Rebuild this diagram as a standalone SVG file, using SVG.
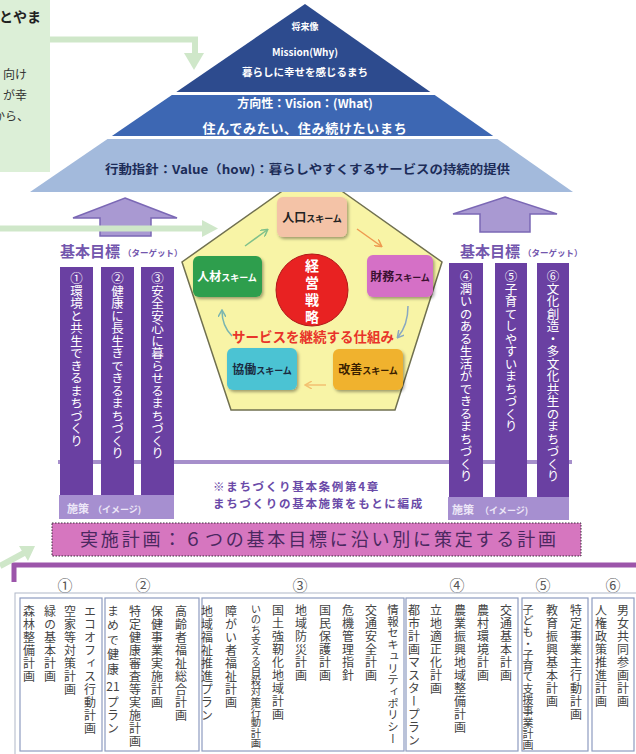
<svg xmlns="http://www.w3.org/2000/svg" width="636" height="754" viewBox="0 0 636 754">
<style>
text{font-family:"Noto Sans CJK JP","Noto Sans",sans-serif}
.v{writing-mode:vertical-rl}
.pt{fill:#fff;font-size:12.5px}
.bt{fill:#444;font-size:12px;letter-spacing:1px}
.box{stroke:#8e9cc0;stroke-width:1.2;fill:#fff}
.pillar{fill:#6a40a2}
.sk{stroke:none;filter:url(#sh)}
.gl{stroke:#cfe7c9;stroke-width:6;fill:none}
.num{fill:#555;font-size:15px;text-anchor:middle}
.goal{fill:#7356ad;font-weight:bold;font-size:15px}
.goal tspan{font-size:8.5px}
.shisaku{fill:#ece6f7;font-weight:bold;font-size:11px}
.shisaku tspan{font-size:9px}
.skt{font-weight:bold;font-size:12px;text-anchor:middle}
.skt tspan{font-size:9px}
.note{font-size:11.5px;font-weight:bold;fill:#6a4aa8;letter-spacing:1.7px}
</style>
<defs>
<filter id="sh" x="-20%" y="-20%" width="150%" height="160%"><feDropShadow dx="1.5" dy="2" stdDeviation="1.5" flood-color="#000" flood-opacity="0.35"/></filter>
<marker id="mg" markerWidth="8" markerHeight="8" refX="6" refY="4" orient="auto" markerUnits="userSpaceOnUse"><path d="M0,0 L7,4 L0,8" fill="none" stroke="#7fc08a" stroke-width="1.5"/></marker>
<marker id="mo" markerWidth="8" markerHeight="8" refX="6" refY="4" orient="auto" markerUnits="userSpaceOnUse"><path d="M0,0 L7,4 L0,8" fill="none" stroke="#ee9a50" stroke-width="1.5"/></marker>
<marker id="mb" markerWidth="8" markerHeight="8" refX="6" refY="4" orient="auto" markerUnits="userSpaceOnUse"><path d="M0,0 L7,4 L0,8" fill="none" stroke="#8aa8c0" stroke-width="1.5"/></marker>
<marker id="my" markerWidth="8" markerHeight="8" refX="6" refY="4" orient="auto" markerUnits="userSpaceOnUse"><path d="M0,0 L7,4 L0,8" fill="none" stroke="#f3c070" stroke-width="1.5"/></marker>
<marker id="mt" markerWidth="8" markerHeight="8" refX="6" refY="4" orient="auto" markerUnits="userSpaceOnUse"><path d="M0,0 L7,4 L0,8" fill="none" stroke="#7ab5b0" stroke-width="1.5"/></marker>
</defs>

<g id="intro-box">
<rect x="0" y="0" width="50" height="172" fill="#dcefd7"/>
<text x="-1" y="22" font-size="14" font-weight="bold" fill="#222">とやま</text>
<text x="27" y="79" font-size="12" fill="#333" text-anchor="end">向け</text>
<text x="27" y="100" font-size="12" fill="#333" text-anchor="end">が幸</text>
<text x="-7" y="121" font-size="12" fill="#333">から、</text>
</g>

<g id="center-pentagon">
<polygon points="312,170 442,262 395,410 231,410 182,262" fill="#f8f4a6" stroke="#707050" stroke-width="1.5"/>
</g>

<g id="pyramid">
<polygon points="305,4 430.4,92 176.3,92" fill="#2d4b8e"/>
<polygon points="171.9,95 434.7,95 493.2,136 111.9,136" fill="#3d67b3"/>
<polygon points="107.5,139 497.4,139 573,192 30,192" fill="#a3badc"/>
<text x="305" y="30" font-size="9" font-weight="bold" fill="#fff" text-anchor="middle">将来像</text>
<text x="305" y="56" font-size="10" font-weight="bold" fill="#fff" text-anchor="middle">Mission(Why)</text>
<text x="305" y="76" font-size="10.5" font-weight="bold" fill="#fff" text-anchor="middle">暮らしに幸せを感じるまち</text>
<text x="305" y="108" font-size="12" font-weight="bold" fill="#fff" text-anchor="middle">方向性：Vision：(What)</text>
<text x="305" y="133" font-size="13" font-weight="bold" fill="#fff" text-anchor="middle" letter-spacing="0.7">住んでみたい、住み続けたいまち</text>
<text x="105" y="174" font-size="12" font-weight="bold" fill="#1c2c58" textLength="405" lengthAdjust="spacingAndGlyphs">行動指針：Value（how)：暮らしやすくするサービスの持続的提供</text>
</g>

<g id="divider">
<line x1="58" y1="462" x2="572" y2="462" stroke="#a68fcb" stroke-width="4"/>
</g>

<g id="left-goals">
<polygon points="125,198 177,218 151,218 151,236 100,236 100,218 73,218" fill="#a999d2" stroke="#7b68b5" stroke-width="1.5"/>
<text class="goal" x="60" y="257">基本目標<tspan dx="3" dy="-1">（ターゲット）</tspan></text>
<rect class="pillar" x="60" y="267" width="33" height="228"/>
<rect class="pillar" x="101" y="267" width="33" height="228"/>
<rect class="pillar" x="141" y="267" width="33" height="228"/>
<text class="v pt" x="76.5" y="272">①環境と共生できるまちづくり</text>
<text class="v pt" x="117.5" y="272">②健康に長生きできるまちづくり</text>
<text class="v pt" x="157.5" y="272">③安全安心に暮らせるまちづくり</text>
<rect x="59" y="495" width="115" height="24" fill="#a68fd0"/>
<text class="shisaku" x="67" y="513">施策<tspan dx="4">（イメージ)</tspan></text>
</g>

<g id="right-goals">
<polygon points="505,197 557,214 530,214 530,232 480,232 480,214 453,214" fill="#a999d2" stroke="#7b68b5" stroke-width="1.5"/>
<text class="goal" x="460" y="257">基本目標<tspan dx="3" dy="-1">（ターゲット）</tspan></text>
<rect class="pillar" x="449" y="263" width="34" height="234"/>
<rect class="pillar" x="495" y="263" width="32" height="234"/>
<rect class="pillar" x="537" y="263" width="32" height="234"/>
<text class="v pt" x="466" y="270">④潤いのある生活ができるまちづくり</text>
<text class="v pt" x="511" y="270">⑤子育てしやすいまちづくり</text>
<text class="v pt" x="553" y="270">⑥文化創造・多文化共生のまちづくり</text>
<rect x="448" y="497" width="121" height="23" fill="#a68fd0"/>
<text class="shisaku" x="452" y="514">施策<tspan dx="6">（イメージ)</tspan></text>
</g>

<g id="strategy">
<circle cx="312" cy="290" r="36" fill="#e82222" stroke="#b01818" stroke-width="1"/>
<text class="v" x="312" y="259" font-size="14" font-weight="bold" fill="#fff" letter-spacing="3">経営戦略</text>
</g>

<g id="scheme-jinko">
<rect class="sk" x="277" y="197" width="70" height="40" rx="6" fill="#f4c3a7"/>
<text class="skt" x="312" y="222" fill="#222">人口<tspan>スキーム</tspan></text>
</g>
<g id="scheme-zaimu">
<rect class="sk" x="367" y="255" width="66" height="42" rx="6" fill="#d56fc6"/>
<text class="skt" x="400" y="281" fill="#3a1030">財務<tspan>スキーム</tspan></text>
</g>
<g id="scheme-kaizen">
<rect class="sk" x="333" y="349" width="70" height="41" rx="6" fill="#f0b22e"/>
<text class="skt" x="368" y="374" fill="#3a2000">改善<tspan>スキーム</tspan></text>
</g>
<g id="scheme-kyodo">
<rect class="sk" x="227" y="348" width="70" height="42" rx="6" fill="#4cc3d3"/>
<text class="skt" x="262" y="374" fill="#1a2a40">協働<tspan>スキーム</tspan></text>
</g>
<g id="scheme-jinzai">
<rect class="sk" x="193" y="256" width="69" height="41" rx="6" fill="#2e9e4e"/>
<text class="skt" x="227" y="281" fill="#fff">人材<tspan>スキーム</tspan></text>
</g>
<g id="cycle-label">
<text x="313" y="342" font-size="13.5" font-weight="bold" fill="#e8342a" text-anchor="middle">サービスを継続する仕組み</text>
</g>

<g id="note">
<text class="note" x="213" y="491">※まちづくり基本条例第4章</text>
<text class="note" x="213" y="508">まちづくりの基本施策をもとに編成</text>
</g>

<g id="plan-bar">
<rect x="52" y="523" width="529" height="33" fill="#d676bf" stroke="#3a2a3a" stroke-width="1" stroke-dasharray="1.5 1.5"/>
<text x="80" y="546" font-size="18" fill="#4a2860" textLength="476" lengthAdjust="spacing">実施計画：６つの基本目標に沿い別に策定する計画</text>
</g>

<g id="plan-table">
<path d="M14,582 V565 H636" fill="none" stroke="#9c55aa" stroke-width="5"/>
<text class="num" x="65" y="591">①</text>
<text class="num" x="143" y="591">②</text>
<text class="num" x="300" y="591">③</text>
<text class="num" x="457" y="591">④</text>
<text class="num" x="543" y="591">⑤</text>
<text class="num" x="613" y="591">⑥</text>
<rect x="15" y="593" width="630" height="170" fill="#fff" stroke="#b0b8c8" stroke-width="1"/>
<rect class="box" x="20" y="598" width="82" height="153"/>
<rect class="box" x="105" y="598" width="94" height="153"/>
<rect class="box" x="202" y="598" width="202" height="153"/>
<rect class="box" x="406" y="598" width="112" height="153"/>
<rect class="box" x="522" y="598" width="66" height="153"/>
<rect class="box" x="592" y="598" width="42" height="153"/>
<text class="v bt" x="29" y="605">森林整備計画</text>
<text class="v bt" x="50" y="605">緑の基本計画</text>
<text class="v bt" x="70" y="605">空家等対策計画</text>
<text class="v bt" x="90" y="605">エコオフィス行動計画</text>
<text class="v bt" x="113" y="605" style="letter-spacing:2.5px">まめで健康</text>
<text class="bt" x="113" y="691" text-anchor="middle" style="letter-spacing:0">21</text>
<text class="v bt" x="113" y="696">プラン</text>
<text class="v bt" x="135" y="605">特定健康審査等実施計画</text>
<text class="v bt" x="157" y="605">保健事業実施計画</text>
<text class="v bt" x="181" y="605">高齢者福祉総合計画</text>
<text class="v bt" x="207" y="605">地域福祉推進プラン</text>
<text class="v bt" x="231" y="605">障がい者福祉計画</text>
<text class="v bt" x="256" y="604" style="font-size:10.3px;letter-spacing:0">いのち支える自殺対策行動計画</text>
<text class="v bt" x="278" y="604">国土強靭化地域計画</text>
<text class="v bt" x="301" y="604">地域防災計画</text>
<text class="v bt" x="325" y="604">国民保護計画</text>
<text class="v bt" x="348" y="604">危機管理指針</text>
<text class="v bt" x="371" y="604">交通安全計画</text>
<text class="v bt" x="393" y="604" style="font-size:11.4px;letter-spacing:0.3px">情報セキュリティポリシー</text>
<text class="v bt" x="414" y="604">都市計画マスタープラン</text>
<text class="v bt" x="436" y="604">立地適正化計画</text>
<text class="v bt" x="460" y="604">農業振興地域整備計画</text>
<text class="v bt" x="483" y="604">農村環境計画</text>
<text class="v bt" x="506" y="604">交通基本計画</text>
<text class="v bt" x="528" y="604" style="font-size:11px;letter-spacing:0.3px">子ども・子育て支援事業計画</text>
<text class="v bt" x="552" y="604">教育振興基本計画</text>
<text class="v bt" x="576" y="604">特定事業主行動計画</text>
<text class="v bt" x="601" y="604">人権政策推進計画</text>
<text class="v bt" x="623" y="604">男女共同参画計画</text>
</g>

<g id="connectors">
<path class="gl" d="M50,39.5 H195 V54"/>
<polygon points="184,53 204,53 194,70" fill="#cfe7c9"/>
<path class="gl" d="M0,228.5 H204"/>
<polygon points="202,220 202,237 218,228.5" fill="#cfe7c9"/>
<path class="gl" d="M0,566 L24,553"/>
<polygon points="19,546 28,561 35,546" fill="#cfe7c9"/>
<path d="M245,246 L267,230" stroke="#7fc08a" stroke-width="1.5" fill="none" marker-end="url(#mg)"/>
<path d="M357,229 L381,246" stroke="#ee9a50" stroke-width="1.5" fill="none" marker-end="url(#mo)"/>
<path d="M408,306 Q408,325 398,337" stroke="#8aa8c0" stroke-width="1.5" fill="none" marker-end="url(#mb)"/>
<path d="M326,385 L306,385" stroke="#f3c070" stroke-width="1.5" fill="none" marker-end="url(#my)"/>
<path d="M232,336 Q222,326 222,311" stroke="#7ab5b0" stroke-width="1.5" fill="none" marker-end="url(#mt)"/>
</g>
</svg>
